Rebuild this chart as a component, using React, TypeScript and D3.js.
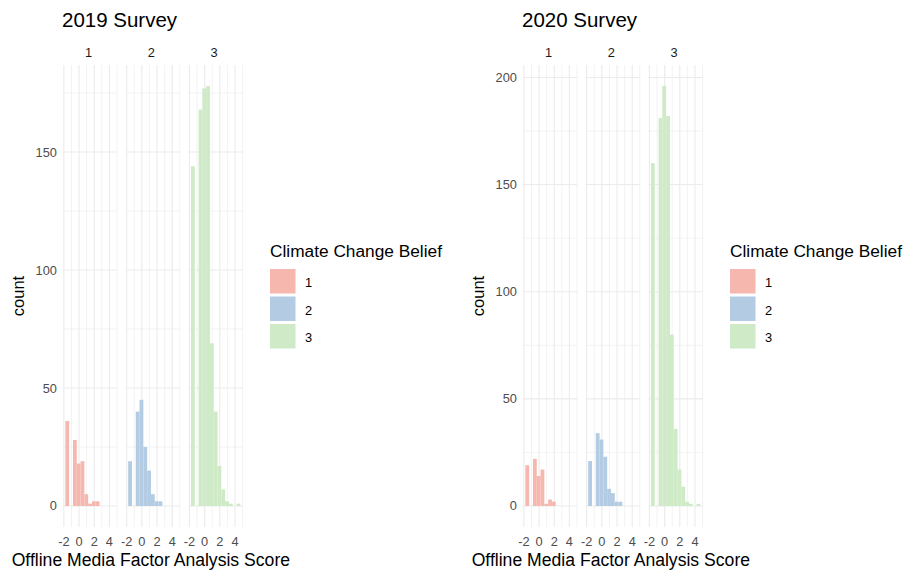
import React, { useEffect } from 'react'
import * as d3 from 'd3'

// histogram bins (left edge of each bin), shared by every facet
const binStarts = [-1.8, -1.3, -0.8, -0.3, 0.2, 0.7, 1.2, 1.7, 2.2, 2.7, 3.2, 3.7, 4.2]
const binWidth = 0.5

const beliefs = ['1', '2', '3']
const beliefColors = ['#F6B7AF', '#B3CCE3', '#CFEAC7']

const counts2019Belief1 = [36, 0, 28, 18, 19, 5, 1, 2, 2, 0, 0, 0, 0]
const counts2019Belief2 = [19, 0, 40, 45, 25, 15, 5, 2, 2, 0, 0, 0, 0]
const counts2019Belief3 = [144, 0, 168, 177, 178, 69, 40, 17, 7, 2, 1, 0, 1]

const counts2020Belief1 = [19, 0, 22, 14, 17, 1, 3, 2, 0, 0, 0, 0, 0]
const counts2020Belief2 = [21, 0, 34, 31, 23, 8, 6, 2, 2, 0, 0, 0, 0]
const counts2020Belief3 = [160, 0, 181, 196, 182, 80, 36, 17, 9, 2, 1, 0, 1]

const xMajor = [-2, 0, 2, 4]
const xMinor = [-1, 1, 3, 5]

const surveys = [
    { title: '2019 Survey', offset: 0, counts: [counts2019Belief1, counts2019Belief2, counts2019Belief3] },
    { title: '2020 Survey', offset: 460, counts: [counts2020Belief1, counts2020Belief2, counts2020Belief3] },
]

const font = '"Liberation Sans", Arial, Helvetica, sans-serif'
const panelTop = 65
const panelBottom = 527
const panelLeft = 62.9
const panelWidth = 54.3
const panelStep = 62.8
const grid = '#EBEBEB'

function Survey(props: { title: string, offset: number, counts: number[][] }) {
    const lo = d3.min(binStarts)!
    const hi = d3.max(binStarts)! + binWidth
    const xPad = (hi - lo) * 0.05
    const xDomain: [number, number] = [lo - xPad, hi + xPad]

    const maxCount = d3.max(props.counts.flat())!
    const yScale = d3
        .scaleLinear()
        .domain([-maxCount * 0.05, maxCount * 1.05])
        .range([panelBottom, panelTop])
    const yMajor = yScale.ticks(5)
    const yStep = yMajor[1] - yMajor[0]
    const yMinor = yMajor
        .map(v => v + yStep / 2)
        .concat([yMajor[0] - yStep / 2])
        .filter(v => v > yScale.domain()[0] && v < yScale.domain()[1])

    const left = props.offset + panelLeft
    const lastRight = left + panelStep * 2 + panelWidth

    return (
        <g>
            <text x={props.offset + 62} y={27} fontSize={20.5} fill="#000">{props.title}</text>

            {props.counts.map((counts, k) => {
                const x0 = left + panelStep * k
                const xScale = d3.scaleLinear().domain(xDomain).range([x0, x0 + panelWidth])
                return (
                    <g key={k}>
                        {yMinor.map(v => (
                            <line key={'ym' + v} x1={x0} x2={x0 + panelWidth} y1={yScale(v)} y2={yScale(v)} stroke={grid} strokeWidth={0.6} />
                        ))}
                        {yMajor.map(v => (
                            <line key={'yM' + v} x1={x0} x2={x0 + panelWidth} y1={yScale(v)} y2={yScale(v)} stroke={grid} strokeWidth={1.1} />
                        ))}
                        {xMinor.map(v => (
                            <line key={'xm' + v} x1={xScale(v)} x2={xScale(v)} y1={panelTop} y2={panelBottom} stroke={grid} strokeWidth={0.6} />
                        ))}
                        {xMajor.map(v => (
                            <line key={'xM' + v} x1={xScale(v)} x2={xScale(v)} y1={panelTop} y2={panelBottom} stroke={grid} strokeWidth={1.1} />
                        ))}
                        {counts.map((c, i) => c > 0 && (
                            <rect
                                key={'b' + i}
                                x={xScale(binStarts[i])}
                                width={xScale(binStarts[i] + binWidth) - xScale(binStarts[i])}
                                y={yScale(c)}
                                height={yScale(0) - yScale(c)}
                                fill={beliefColors[k]}
                            />
                        ))}
                        <text x={x0 + panelWidth / 2 - 1.5} y={57.3} fontSize={12.8} fill="#1A1A1A" textAnchor="middle">{beliefs[k]}</text>
                        {xMajor.map(v => (
                            <text key={'xl' + v} x={xScale(v)} y={545.5} fontSize={12.8} fill="#4D4D4D" textAnchor="middle">{v}</text>
                        ))}
                    </g>
                )
            })}

            {yMajor.map(v => (
                <text key={'yl' + v} x={left - 6} y={yScale(v)} dy="0.35em" fontSize={12.8} fill="#4D4D4D" textAnchor="end">{v}</text>
            ))}

            <text transform={`translate(${props.offset + 23.5}, ${(panelTop + panelBottom) / 2}) rotate(-90)`} fontSize={16.5} textAnchor="middle" fill="#000">count</text>
            <text x={(left + lastRight) / 2 - 2} y={565.5} fontSize={17.6} textAnchor="middle" fill="#000">Offline Media Factor Analysis Score</text>

            <g transform={`translate(${props.offset + 270}, 0)`}>
                <text x={0} y={257} fontSize={17.3} fill="#000">Climate Change Belief</text>
                {beliefs.map((b, k) => (
                    <g key={b}>
                        <rect x={0} y={269 + 27.5 * k} width={25.5} height={24.5} fill={beliefColors[k]} />
                        <text x={35} y={287 + 27.5 * k} fontSize={12.8} fill="#000">{b}</text>
                    </g>
                ))}
            </g>
        </g>
    )
}

export default function App() {
    useEffect(() => {
        document.body.style.margin = '0'
    }, [])

    return (
        <svg width={904} height={570} style={{ display: 'block', background: '#fff', fontFamily: font }}>
            {surveys.map(s => (
                <Survey key={s.title} title={s.title} offset={s.offset} counts={s.counts} />
            ))}
        </svg>
    )
}
